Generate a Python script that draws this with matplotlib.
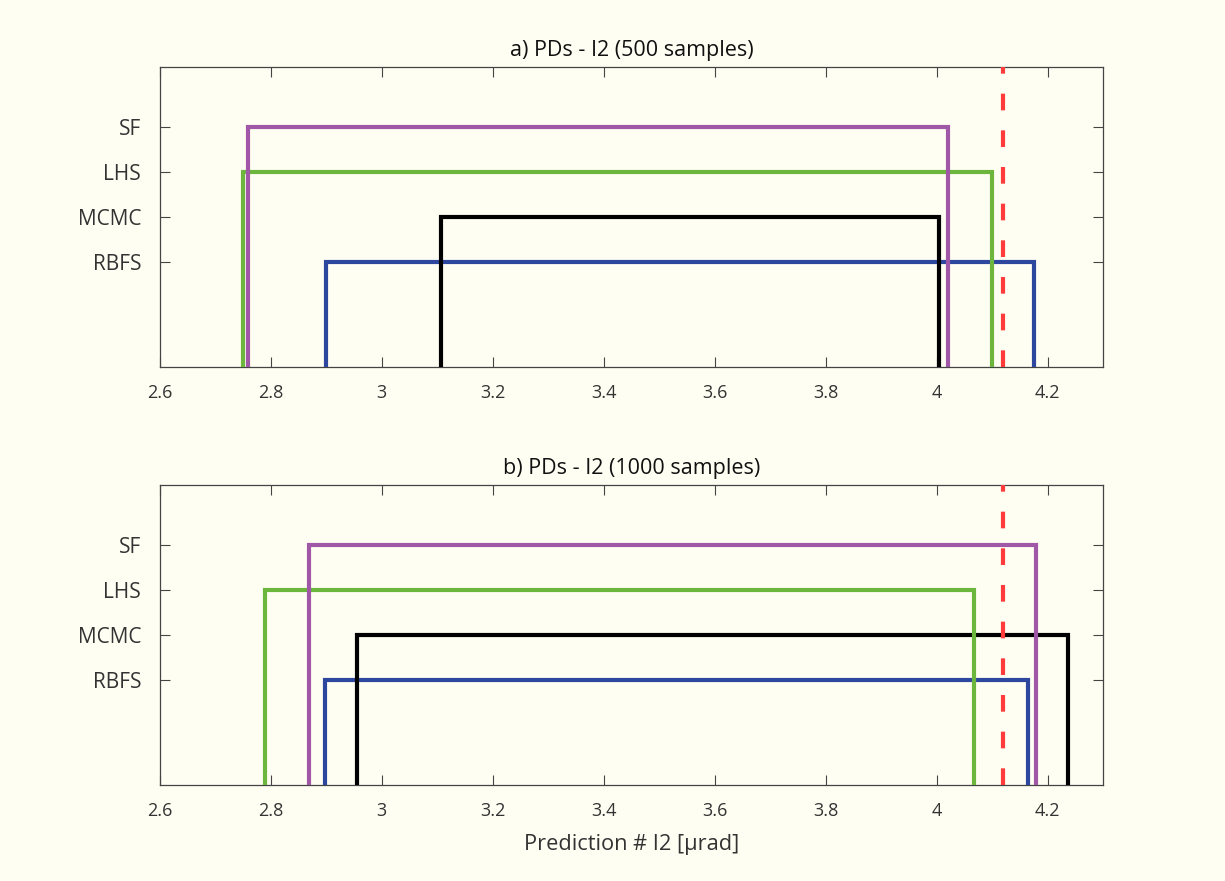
import matplotlib
matplotlib.use("Agg")
import matplotlib.pyplot as plt

methods = ["RBFS", "MCMC", "LHS", "SF"]
levels = [1, 2, 3, 4]
colors = ["#2E479E", "#000000", "#6CB63E", "#A057A8"]

low_500 = [2.90, 3.106, 2.75, 2.759]
high_500 = [4.176, 4.004, 4.10, 4.02]
low_1000 = [2.898, 2.956, 2.79, 2.869]
high_1000 = [4.164, 4.237, 4.067, 4.18]
true_value = 4.12

titles = ["a) PDs - I2 (500 samples)", "b) PDs - I2 (1000 samples)"]
xlabel = "Prediction # I2 [\u00b5rad]"
xticks = [2.6, 2.8, 3.0, 3.2, 3.4, 3.6, 3.8, 4.0, 4.2]
xticklabels = ["2.6", "2.8", "3", "3.2", "3.4", "3.6", "3.8", "4", "4.2"]

bg = "#FFFEF2"
plt.rcParams['font.family'] = ['Open Sans', 'DejaVu Sans']

fig = plt.figure(figsize=(12.25, 8.81), dpi=100, facecolor=bg)
ax1 = fig.add_axes([0.1306, 0.5834, 0.7698, 0.3409])
ax2 = fig.add_axes([0.1306, 0.1086, 0.7698, 0.3409])

ylo, yhi = -4/3, 16/3
for ax, lows, highs, title in [(ax1, low_500, high_500, titles[0]),
                                (ax2, low_1000, high_1000, titles[1])]:
    ax.set_facecolor(bg)
    for lvl, lo, hi, c in zip(levels, lows, highs, colors):
        ax.plot([lo, lo, hi, hi], [ylo - 1, lvl, lvl, ylo - 1], color=c,
                lw=3.0, solid_joinstyle='miter', zorder=3)
    ax.plot([true_value, true_value], [ylo, yhi], color="#FF3B3B", lw=3.0,
            dashes=(4.0, 4.8), zorder=4)
    ax.set_xlim(2.6, 4.3)
    ax.set_ylim(ylo, yhi)
    ax.set_xticks(xticks)
    ax.set_xticklabels(xticklabels)
    ax.set_yticks(levels)
    ax.set_yticklabels(methods)
    ax.tick_params(direction='in', length=7, width=0.8, color="#444444",
                   top=True, right=True, labelsize=13, labelcolor="#333333")
    ax.tick_params(axis='x', pad=12)
    ax.tick_params(axis='y', labelsize=15, pad=13.5)
    for s in ax.spines.values():
        s.set_color("#444444")
        s.set_linewidth(0.9)
    ax.set_title(title, fontsize=15.5, color="#111111", pad=8)

ax2.set_xlabel(xlabel, fontsize=15.7, color="#333333", labelpad=10)

fig.savefig("out.png", dpi=100, facecolor=bg)
